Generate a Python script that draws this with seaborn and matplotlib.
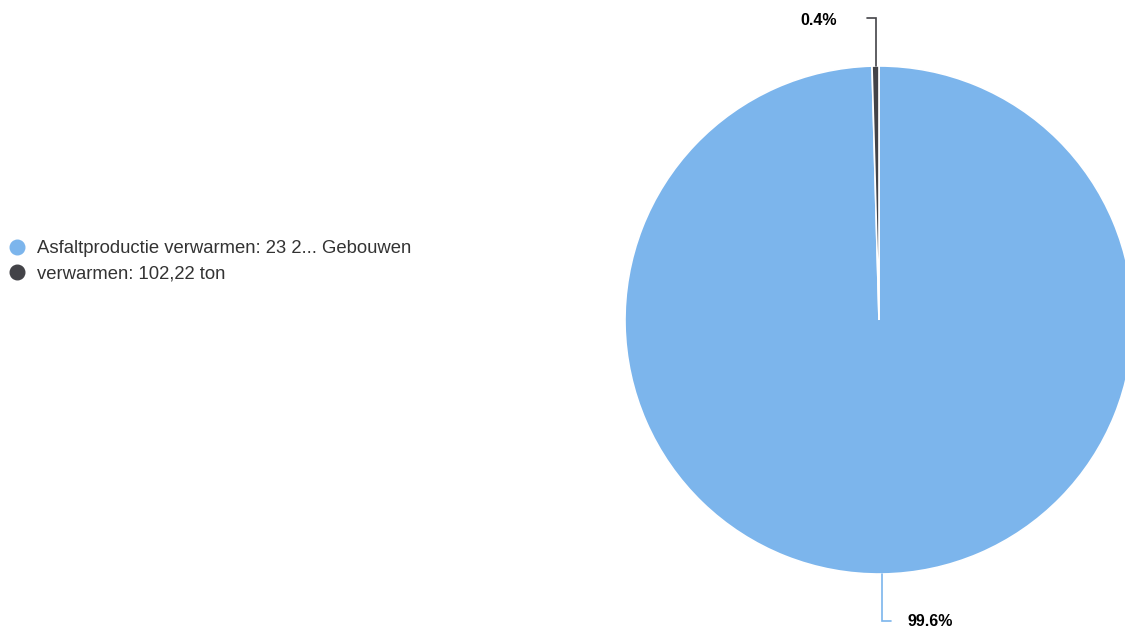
import matplotlib
matplotlib.use("Agg")
import matplotlib.pyplot as plt
from matplotlib.lines import Line2D
import numpy as np
import seaborn as sns

# Slices
labels = ["Asfaltproductie verwarmen: 23 2... Gebouwen", "verwarmen: 102,22 ton"]
values = [23250, 102.22]
colors = ["#7cb5ec", "#434348"]

sns.set_theme(style="white")
plt.rcParams["font.family"] = ["Liberation Sans", "DejaVu Sans"]

W, H = 1125, 628
fig = plt.figure(figsize=(W / 100, H / 100), dpi=100)
ax = fig.add_axes([0, 0, 1, 1])

cx, cy, r = 879, H - 320, 254
wedges, _ = ax.pie(values, colors=sns.color_palette(colors), startangle=90, counterclock=False,
                   center=(cx, cy), radius=r,
                   wedgeprops=dict(edgecolor="white", linewidth=1.2))
ax.set_xlim(0, W)
ax.set_ylim(0, H)
ax.set_aspect("equal")
ax.axis("off")

# percentage labels with elbow connectors
total = sum(values)
for w, v, c in zip(wedges, values, colors):
    th = np.deg2rad((w.theta1 + w.theta2) / 2)
    x0, y0 = cx + r * np.cos(th), cy + r * np.sin(th)
    dy = 48 if np.sin(th) > 0 else -47
    dx = -9 if np.cos(th) < 0 else 9
    ax.plot([x0, x0, x0 + dx], [y0, y0 + dy, y0 + dy], color=c, lw=1.2, solid_joinstyle="miter")
    tx = x0 + dx + (-30 if dx < 0 else 16)
    ax.text(tx, y0 + dy + (-2 if dy > 0 else -1), f"{v / total * 100:.1f}%",
            ha="right" if dx < 0 else "left", va="center", fontsize=11.5,
            fontweight="bold", color="black")

handles = [Line2D([], [], marker="o", linestyle="", markerfacecolor=c, markeredgecolor=c,
                  markersize=10.5) for c in colors]
fig.legend(handles, labels, loc="upper left", bbox_to_anchor=(8 / W, 1 - 240 / H),
           frameon=False, borderpad=0, borderaxespad=0, handlelength=1.0,
           handletextpad=0.55, labelspacing=0.48, fontsize=13.3, labelcolor="#333333")

fig.savefig("out.png", dpi=100)
